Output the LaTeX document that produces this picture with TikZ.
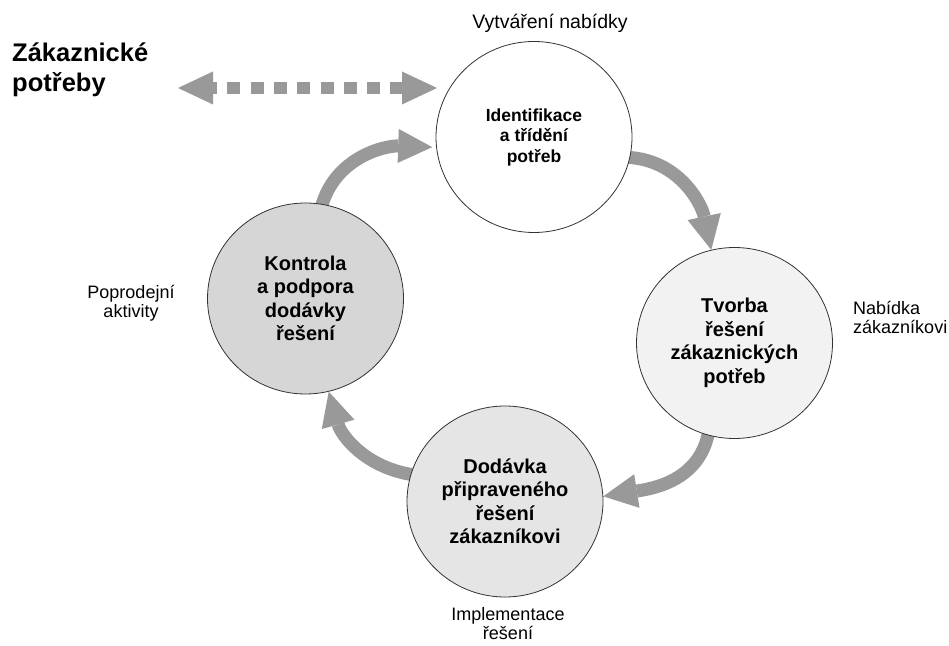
\documentclass[tikz,border=0pt]{standalone}
\usepackage{fontspec}
\setmainfont{Liberation Sans}
\usetikzlibrary{arrows.meta,shapes.geometric,backgrounds}

\begin{document}
\begin{tikzpicture}[
    x=1pt, y=1pt,
    bubble/.style={
		ellipse,
		draw=black!80,
		line width=0.8pt,
		minimum width=196pt,
		minimum height=191pt,
		inner sep=0pt,
		align=center,
		font=\fontsize{20}{23.5}\selectfont\bfseries
	},
	caption/.style={
		inner sep=0pt,
		font=\fontsize{18}{19.5}\selectfont
	},
	cyclearrow/.style={
		color=gray!80,
		line width=13pt,
		shorten <=-4pt,
		-{Triangle[length=34pt,width=34pt,line width=0pt]}
	},
	needarrow/.style={
		color=gray!80,
		line width=12pt,
		dash pattern=on 13pt off 10.3pt,
		dash phase=9pt,
		{Triangle[length=35pt,width=33pt,line width=0pt]}-{Triangle[length=35pt,width=33pt,line width=0pt]}
	}
  ]

 \useasboundingbox (0,0) rectangle (949,645);

 % // The cycle
 \node [bubble, fill=white, font=\fontsize{17.5}{20.5}\selectfont\bfseries] (ident) at (534,508) {Identifikace\\a třídění\\potřeb};
 \node [bubble, fill=gray!10] (tvorba) at (734.5,302) {Tvorba\\řešení\\zákaznických\\potřeb};
 \node [bubble, fill=gray!20] (dodavka) at (505,143.5) {Dodávka\\připraveného\\řešení\\zákazníkovi};
 \node [bubble, fill=gray!32] (kontrola) at (305.5,346.5) {Kontrola\\a podpora\\dodávky\\řešení};

 % // Phases
 \node [caption, anchor=base, font=\fontsize{19.5}{21}\selectfont] (offer) at (550,616) {Vytváření nabídky};
 \node [caption, anchor=north west, align=left] (toclient) at (853,344) {Nabídka\\zákazníkovi};
 \node [caption, anchor=north, align=center] (impl) at (508,38) {Implementace\\řešení};
 \node [caption, anchor=north, align=center] (after) at (131,360) {Poprodejní\\aktivity};

 \node [anchor=north west, inner sep=0pt, align=left,
 font=\fontsize{25.5}{30}\selectfont\bfseries] (needs) at (12,602) {Zákaznické\\potřeby};

 \coordinate (needend) at (178,557);
 \coordinate (identend) at (437,557);

 % // Arrows behind the circles
 \begin{scope}[on background layer]
  \fill [white] (0,0) rectangle (949,645);
  \draw [needarrow] (needend) -- (identend);
  \draw [cyclearrow, shorten >=4pt] (kontrola.80) to [out=75, in=178] (ident.186);
  \draw [cyclearrow] (ident.-12) to [out=-2, in=102] (tvorba.104);
  \draw [cyclearrow] (tvorba.254) to [out=-100, in=9] (dodavka.3);
  \draw [cyclearrow] (dodavka.164) to [out=172, in=-74] (kontrola.-76);
 \end{scope}

\end{tikzpicture}
\end{document}
